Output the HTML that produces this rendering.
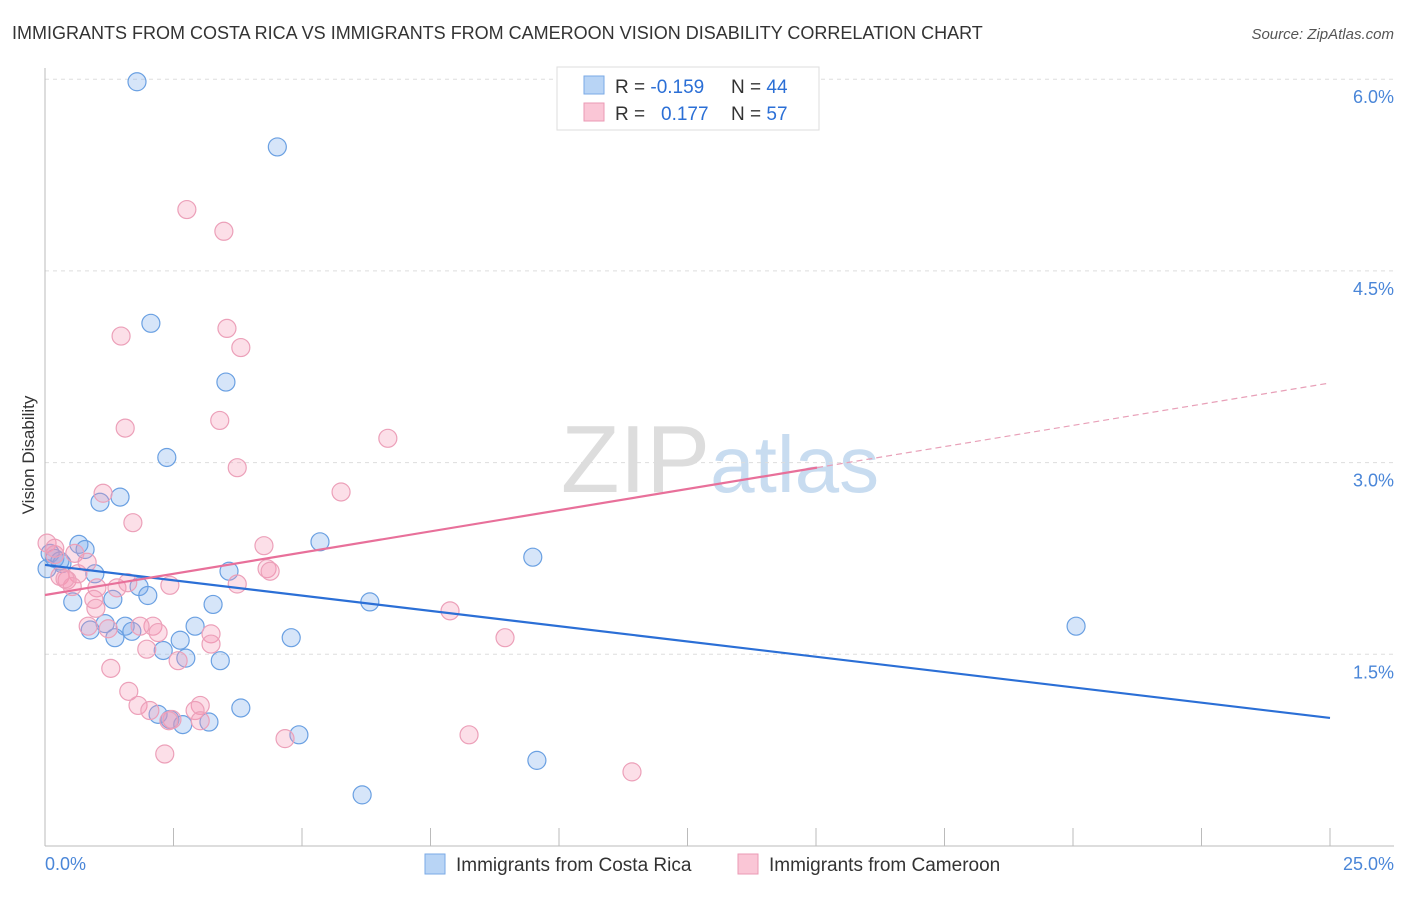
<!DOCTYPE html>
<html><head><meta charset="utf-8"><style>
body{margin:0;background:#fff;font-family:"Liberation Sans",sans-serif;}
svg text{font-family:"Liberation Sans",sans-serif;}
</style></head><body>
<svg id="chart" width="1406" height="892" xmlns="http://www.w3.org/2000/svg">
<text x="12" y="39" font-size="18" fill="#333">IMMIGRANTS FROM COSTA RICA VS IMMIGRANTS FROM CAMEROON VISION DISABILITY CORRELATION CHART</text>
<text x="1394" y="39" font-size="15" fill="#555" text-anchor="end" font-style="italic">Source: ZipAtlas.com</text>
<text transform="translate(34,455) rotate(-90)" font-size="17" fill="#333" text-anchor="middle">Vision Disability</text>
<text x="720" y="492" font-size="96" fill="#ddd" text-anchor="middle" font-family="Liberation Serif">ZIP<tspan fill="#c8dcf0" font-family="Liberation Sans" font-size="80">atlas</tspan></text>
<g id="grid"></g><g id="axes"></g><g id="pts"></g><g id="lines"></g>
<g>
<rect x="557" y="67" width="262" height="63" fill="#fff" stroke="#ddd"/>
<rect x="584" y="76" width="20" height="18" fill="#b8d4f5" stroke="#7aaae6"/>
<rect x="584" y="103" width="20" height="18" fill="#fac6d6" stroke="#eb9ab4"/>
<text x="615" y="93" font-size="19" fill="#333">R = <tspan fill="#2b6fd6">-0.159</tspan><tspan x="731">N = </tspan><tspan fill="#2b6fd6">44</tspan></text>
<text x="615" y="120" font-size="19" fill="#333">R = <tspan x="661" fill="#2b6fd6">0.177</tspan><tspan x="731">N = </tspan><tspan fill="#2b6fd6">57</tspan></text>
</g>
<g>
<rect x="425" y="854" width="20" height="20" fill="#b8d4f5" stroke="#7aaae6"/>
<text x="456" y="871" font-size="19" fill="#333">Immigrants from Costa Rica</text>
<rect x="738" y="854" width="20" height="20" fill="#fac6d6" stroke="#eb9ab4"/>
<text x="769" y="871" font-size="19" fill="#333">Immigrants from Cameroon</text>
</g>
<text x="45" y="870" font-size="18" fill="#4a86d8">0.0%</text>
<text x="1394" y="870" font-size="18" fill="#4a86d8" text-anchor="end">25.0%</text>
</svg>
<script>
const yTicks=[6.0,4.5,3.0,1.5];
const yTickLabels=["6.0%","4.5%","3.0%","1.5%"];
const xTicks=[0,2.5,5,7.5,10,12.5,15,17.5,20,22.5,25];
const blueX=[1.79,4.52,2.06,3.52,2.37,1.46,1.07,5.35,0.66,0.78,9.49,0.10,0.19,0.33,3.58,0.97,0.04,1.83,2.00,1.32,0.54,6.32,3.27,20.06,1.56,2.92,1.17,0.88,1.69,1.36,2.63,4.79,2.30,2.74,3.41,3.81,2.20,2.43,2.68,3.19,4.94,9.57,6.17,0.29];
const blueY=[5.98,5.47,4.09,3.63,3.04,2.73,2.69,2.38,2.36,2.32,2.26,2.29,2.25,2.21,2.15,2.13,2.17,2.03,1.96,1.93,1.91,1.91,1.89,1.72,1.72,1.72,1.74,1.69,1.68,1.63,1.61,1.63,1.53,1.47,1.45,1.08,1.03,0.99,0.95,0.97,0.87,0.67,0.40,2.23];
const pinkX=[14.53,2.76,3.48,1.48,3.54,3.81,1.56,3.40,6.67,3.74,1.13,5.76,1.71,0.04,4.26,0.58,0.19,0.82,0.64,4.32,4.38,0.29,0.43,0.53,1.01,3.74,2.43,1.40,0.95,1.61,7.88,0.99,2.10,1.85,0.84,1.23,2.20,3.23,8.95,1.98,3.23,2.59,1.28,1.63,1.81,2.04,2.47,3.02,2.92,2.41,4.67,8.25,2.33,11.42,0.19,0.39,3.02];
const pinkY=[5.98,4.98,4.81,3.99,4.05,3.90,3.27,3.33,3.19,2.96,2.76,2.77,2.53,2.37,2.35,2.29,2.28,2.22,2.13,2.17,2.15,2.11,2.08,2.03,2.02,2.05,2.04,2.02,1.93,2.06,1.84,1.86,1.72,1.72,1.72,1.70,1.67,1.66,1.63,1.54,1.58,1.45,1.39,1.21,1.10,1.06,0.99,1.10,1.06,0.98,0.84,0.87,0.72,0.58,2.33,2.09,0.98];
const blueTrend=[2.199,1.002];
const pinkTrend=[1.964,3.623];
const pinkSolidEnd=15.02;
const NS="http://www.w3.org/2000/svg";
const X0=45,X1=1330,YB=846,PX=191.7/1.5;
function sx(v){return X0+(v/25)*(X1-X0);}
function sy(v){return YB-v*PX;}
function mk(tag,attrs,parent){const e=document.createElementNS(NS,tag);for(const k in attrs)e.setAttribute(k,attrs[k]);document.getElementById(parent).appendChild(e);return e;}
yTicks.forEach((t,i)=>{
 const l=mk('line',{x1:X0,x2:1394,y1:sy(t),y2:sy(t),stroke:'#ddd','stroke-dasharray':'4,4'},'grid');
 
 
 const tx=mk('text',{x:1394,y:sy(t)+24,'font-size':18,fill:'#4a86d8','text-anchor':'end'},'grid');
 tx.textContent=yTickLabels[i];
 
 
});
const ax=mk('line',{x1:X0,x2:X0,y1:68,y2:YB,stroke:'#bbb'},'axes');


const bx=mk('line',{x1:X0,x2:1394,y1:YB,y2:YB,stroke:'#bbb'},'axes');


xTicks.forEach(t=>{const l=mk('line',{x1:sx(t),x2:sx(t),y1:828,y2:YB,stroke:'#bbb'},'axes');
 
 });
function pts(xs,ys,fill,stroke,name){xs.forEach((x,i)=>{const c=mk('circle',{cx:sx(x),cy:sy(ys[i]),r:9,fill:fill,stroke:stroke,'stroke-width':1.2},'pts');
 
 });}
pts(blueX,blueY,'rgba(120,170,235,0.3)','#6aa0e2','costa-rica-point');
pts(pinkX,pinkY,'rgba(245,150,180,0.3)','#eca0b9','cameroon-point');
function tv(t,x){return t[0]+(t[1]-t[0])*x/25;}
const bl=mk('line',{x1:sx(0),y1:sy(tv(blueTrend,0)),x2:sx(25),y2:sy(tv(blueTrend,25)),stroke:'#2b6fd6','stroke-width':2.2},'lines');


const pl=mk('line',{x1:sx(0),y1:sy(tv(pinkTrend,0)),x2:sx(pinkSolidEnd),y2:sy(tv(pinkTrend,pinkSolidEnd)),stroke:'#e8709a','stroke-width':2.2},'lines');


const pd=mk('line',{x1:sx(pinkSolidEnd),y1:sy(tv(pinkTrend,pinkSolidEnd)),x2:sx(25),y2:sy(tv(pinkTrend,25)),stroke:'#e8a0b8','stroke-width':1.2,'stroke-dasharray':'6,4'},'lines');


</script>
</body></html>
